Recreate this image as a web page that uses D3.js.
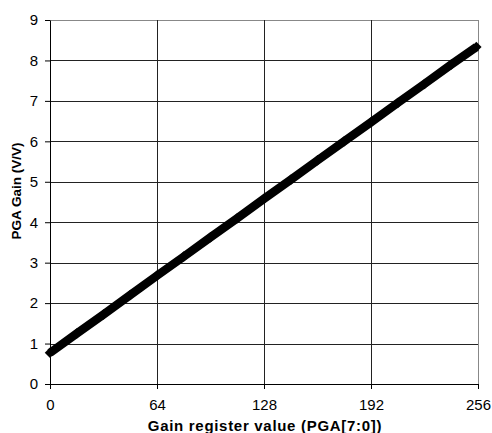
<!DOCTYPE html>
<html>
<head>
<meta charset="utf-8">
<script src="https://cdn.jsdelivr.net/npm/d3@7"></script>
<style>
  body { margin: 0; background: #fff; }
  svg { display: block; font-family: Arial, "Liberation Sans", sans-serif; }
</style>
</head>
<body>
<div id="chart"></div>
<script>
// register value vs PGA gain
const regValues = [0, 16, 32, 48, 64, 80, 96, 112, 128, 144, 160, 176, 192, 208, 224, 240, 255];
const gainValues = [0.77, 1.25, 1.72, 2.20, 2.68, 3.15, 3.63, 4.10, 4.58, 5.05, 5.53, 6.00, 6.47, 6.95, 7.42, 7.90, 8.33];
const xTicks = [0, 64, 128, 192, 256];
const yTicks = [0, 1, 2, 3, 4, 5, 6, 7, 8, 9];

const width = 492, height = 433;
const margin = { top: 20, right: 14, bottom: 49, left: 50 };
const w = width - margin.left - margin.right;
const h = height - margin.top - margin.bottom;

const svg = d3.select("#chart").append("svg")
  .attr("width", width)
  .attr("height", height);

const g = svg.append("g")
  .attr("transform", "translate(" + margin.left + "," + margin.top + ")");

const x = d3.scaleLinear().domain([0, 256]).range([0, w]);
const y = d3.scaleLinear().domain([0, 9]).range([h, 0]);

// gridlines
g.append("g")
  .selectAll("line")
  .data(yTicks.slice(1))
  .enter().append("line")
  .attr("x1", 0).attr("x2", w)
  .attr("y1", d => Math.round(y(d)) + 0.5)
  .attr("y2", d => Math.round(y(d)) + 0.5)
  .attr("stroke", d => d === 9 ? "#888" : "#222")
  .attr("stroke-width", 1);

g.append("g")
  .selectAll("line")
  .data(xTicks.slice(1))
  .enter().append("line")
  .attr("y1", 0).attr("y2", h)
  .attr("x1", d => Math.round(x(d)) + 0.5)
  .attr("x2", d => Math.round(x(d)) + 0.5)
  .attr("stroke", d => d === 256 ? "#888" : "#222")
  .attr("stroke-width", 1);

// axes
const xAxis = g.append("g")
  .attr("transform", "translate(0," + h + ")")
  .call(d3.axisBottom(x).tickValues(xTicks).tickSize(5).tickPadding(10).tickSizeOuter(0));
xAxis.select(".domain").attr("stroke", "#000");
xAxis.selectAll("text").style("font-size", "15px").attr("fill", "#000");

const yAxis = g.append("g")
  .call(d3.axisLeft(y).tickValues(yTicks).tickSize(5).tickPadding(7).tickSizeOuter(0));
yAxis.select(".domain").attr("stroke", "#000");
yAxis.selectAll("text").style("font-size", "15px").attr("fill", "#000");

// series: thick line with diamond markers
const line = d3.line()
  .x((d, i) => x(regValues[i]))
  .y(d => y(d));

g.append("path")
  .datum(gainValues)
  .attr("d", line)
  .attr("fill", "none")
  .attr("stroke", "#000")
  .attr("stroke-width", 8.5);

g.append("g")
  .selectAll("path")
  .data(gainValues)
  .enter().append("path")
  .attr("d", d3.symbol().type(d3.symbolDiamond2).size(70))
  .attr("transform", (d, i) => "translate(" + x(regValues[i]) + "," + y(d) + ")")
  .attr("fill", "#000");

// axis titles
svg.append("text")
  .attr("x", 265)
  .attr("y", 431)
  .attr("text-anchor", "middle")
  .style("font-size", "15px")
  .style("font-weight", "bold")
  .style("letter-spacing", "0.7px")
  .text("Gain register value (PGA[7:0])");

svg.append("text")
  .attr("transform", "translate(21,191) rotate(-90)")
  .attr("text-anchor", "middle")
  .style("font-size", "13.5px")
  .style("font-weight", "bold")
  .text("PGA Gain (V/V)");
</script>
</body>
</html>
